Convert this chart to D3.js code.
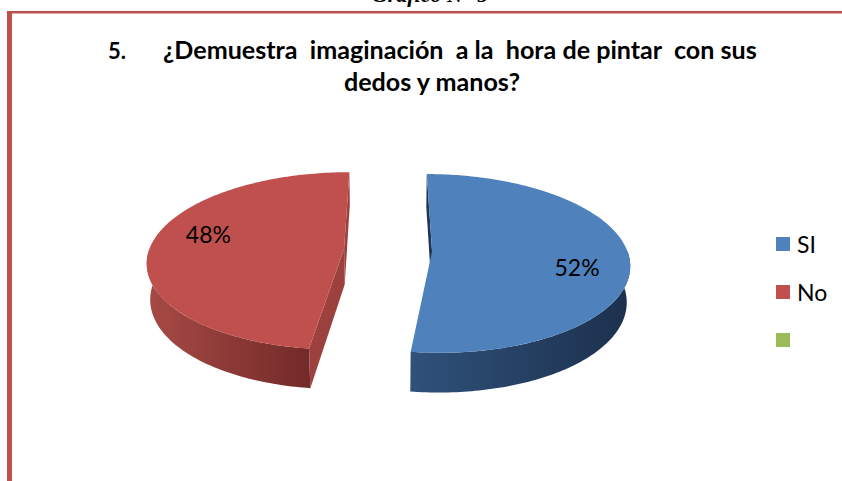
<!DOCTYPE html>
<html>
<head>
<meta charset="utf-8">
<script src="https://cdn.jsdelivr.net/npm/d3@7"></script>
<style>
  body { margin: 0; background: #fff; }
  svg { display: block; }
</style>
</head>
<body>
<div id="chart"></div>
<script>
// data
const categories = ["SI", "No", ""];
const values = [52, 48, 0];
const sliceColors = ["#4f81bd", "#c0504d", "#9bbb59"];
const wallColors = [["#2f517a", "#1c304d"], ["#a84a46", "#722a28"], ["#7d9a45", "#5b7430"]];
const cutColors = ["#1f3655", "#9d413e", "#6f8a3a"];
const titleNum = "5.";
const titleLines = ["¿Demuestra  imaginación  a la  hora de pintar  con sus", "dedos y manos?"];
const pageCaption = "Gráfico N° 5";

const width = 842, height = 481;
const cx = 388, cy = 250;       // pie centre on screen
const K = 195;                  // px per radius
const F = 6.56;                 // camera distance (radii)
const tilt = Math.asin(0.448);
const depth = 0.208;
const explode = 0.226;
const labelShift = 10 * Math.PI / 180, labelR = 0.74;

const svg = d3.select("#chart").append("svg")
  .attr("width", width)
  .attr("height", height);

// frame
svg.append("rect").attr("x", 7).attr("y", 11).attr("width", width - 7).attr("height", 2.5).attr("fill", "#c0504d");
svg.append("rect").attr("x", 7).attr("y", 11).attr("width", 5).attr("height", height - 11).attr("fill", "#c0504d");

// caption of the page above, mostly cut off
svg.append("text")
  .attr("x", 430).attr("y", 1.5)
  .attr("text-anchor", "middle")
  .style("font-family", "'Liberation Serif', serif")
  .style("font-style", "italic")
  .style("font-weight", "bold")
  .style("font-size", "22px")
  .text(pageCaption);

// title
const tFont = "Lato, 'Open Sans', sans-serif";
svg.append("text")
  .attr("x", 108).attr("y", 59)
  .style("font-family", tFont).style("font-weight", "bold").style("font-size", "22px")
  .text(titleNum);
const t1 = svg.append("text")
  .attr("x", 163).attr("y", 59)
  .style("font-family", tFont).style("font-weight", "bold").style("font-size", "22px")
  .style("white-space", "pre")
  .text(titleLines[0]);
// shrink to the width the original line takes
const fs = 22 * 594 / t1.node().getComputedTextLength();
t1.style("font-size", fs + "px");
svg.append("text")
  .attr("x", 432).attr("y", 91)
  .attr("text-anchor", "middle")
  .style("font-family", tFont).style("font-weight", "bold").style("font-size", fs + "px")
  .text(titleLines[1]);

// 3d pie
const cosT = Math.cos(tilt), sinT = Math.sin(tilt);
function project(gx, gz, h) {
  const yv = h * cosT + gz * sinT;
  const zv = gz * cosT - h * sinT;
  const s = F / (F + zv);
  return [cx + gx * s * K, cy - yv * s * K];
}
const cam = [0, -F * cosT];

const pie = d3.pie().sort(null).value(d => d);
const arcs = pie(values);
const line = d3.line();
const defs = svg.append("defs");
const g = svg.append("g");

function samples(a, b) {
  const n = Math.max(2, Math.ceil((b - a) / (Math.PI / 180)));
  return d3.range(n + 1).map(i => a + (b - a) * i / n);
}

arcs.forEach((d, i) => {
  if (d.value <= 0) return;
  const a0 = d.startAngle, a1 = d.endAngle;
  const mid = (a0 + a1) / 2;
  const ox = explode * Math.sin(mid), oz = explode * Math.cos(mid);
  const rim = (t, h) => project(ox + Math.sin(t), oz + Math.cos(t), h);
  const ctr = h => project(ox, oz, h);

  // outer wall, front part only
  const w0 = Math.max(a0, Math.PI / 2), w1 = Math.min(a1, 3 * Math.PI / 2);
  if (w1 > w0) {
    const ts = samples(w0, w1);
    const pts = ts.map(t => rim(t, 0)).concat(ts.slice().reverse().map(t => rim(t, -depth)));
    const xs = pts.map(p => p[0]);
    const gid = "wall" + i;
    const grad = defs.append("linearGradient").attr("id", gid)
      .attr("gradientUnits", "userSpaceOnUse")
      .attr("x1", d3.min(xs)).attr("x2", d3.max(xs)).attr("y1", 0).attr("y2", 0);
    grad.append("stop").attr("offset", 0).attr("stop-color", wallColors[i][0]);
    grad.append("stop").attr("offset", 1).attr("stop-color", wallColors[i][1]);
    g.append("path").attr("d", line(pts) + "Z").attr("fill", `url(#${gid})`);
  }

  // cut faces that look towards the camera
  [[a0, [-Math.cos(a0), Math.sin(a0)]], [a1, [Math.cos(a1), -Math.sin(a1)]]].forEach(([a, n]) => {
    const dot = n[0] * (cam[0] - ox) + n[1] * (cam[1] - oz);
    if (dot <= 0) return;
    const pts = [ctr(0), rim(a, 0), rim(a, -depth), ctr(-depth)];
    g.append("path").attr("d", line(pts) + "Z").attr("fill", cutColors[i]);
  });

  // top
  const top = [ctr(0)].concat(samples(a0, a1).map(t => rim(t, 0)));
  g.append("path").attr("d", line(top) + "Z").attr("fill", sliceColors[i]);

  // percentage label
  const la = mid + labelShift;
  const lp = project(ox + labelR * Math.sin(la), oz + labelR * Math.cos(la), 0);
  g.append("text")
    .attr("x", lp[0]).attr("y", lp[1])
    .attr("text-anchor", "middle")
    .attr("dominant-baseline", "central")
    .style("font-family", tFont).style("font-size", "23px")
    .text(Math.round(d.value / d3.sum(values) * 100) + "%");
});

// legend
const legend = svg.append("g").attr("transform", "translate(776,244)");
categories.forEach((c, i) => {
  const row = legend.append("g").attr("transform", `translate(0,${i * 48})`);
  row.append("rect").attr("x", 0).attr("y", -7).attr("width", 14).attr("height", 14).attr("fill", sliceColors[i]);
  row.append("text").attr("x", 21).attr("y", 0)
    .attr("dominant-baseline", "central")
    .style("font-family", tFont).style("font-size", "23px")
    .text(c);
});
</script>
</body>
</html>
